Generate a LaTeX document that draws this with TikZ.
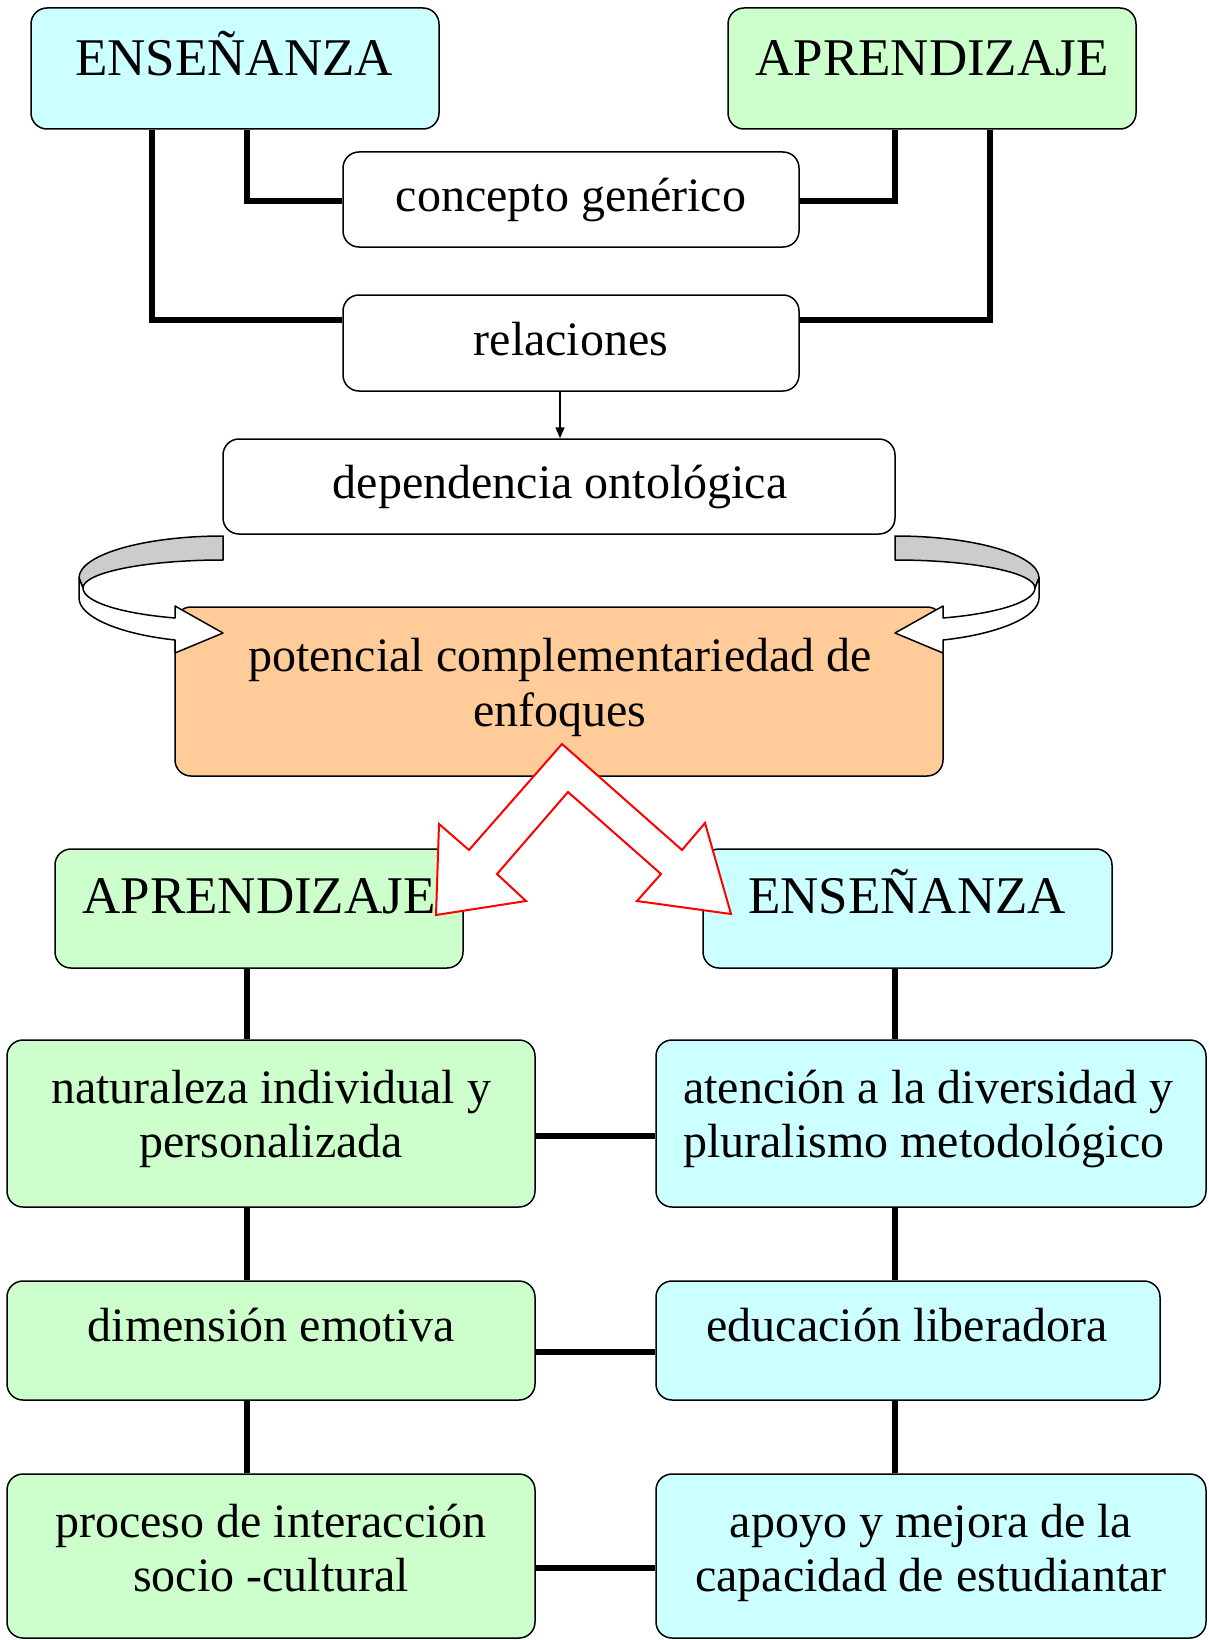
\documentclass[tikz,border=0pt]{standalone}
\usepackage{fontspec}
\setmainfont{Liberation Serif}
\usetikzlibrary{arrows.meta}
\definecolor{cyanbox}{HTML}{CCFFFF}
\definecolor{greenbox}{HTML}{CCFFCC}
\definecolor{orangebox}{HTML}{FFCC99}
\definecolor{bandgray}{HTML}{CCCCCC}
\begin{document}
\begin{tikzpicture}[x=1pt,y=-1pt,
  box/.style={draw, line width=1.5pt, rounded corners=16pt, inner sep=0pt},
  conn/.style={line width=6.3pt},
  title/.style={font=\fontsize{53}{60}\selectfont, anchor=base, inner sep=0pt},
  body/.style={font=\fontsize{48}{54.4}\selectfont, inner sep=0pt},
  bodyb/.style={body, anchor=base},
  ribbon/.style={draw, line width=1.5pt, line join=round}]
\useasboundingbox (0,0) rectangle (1208,1640);
\fill[white] (0,0) rectangle (1208,1640);

% boxes
\node[box, fill=cyanbox, minimum width=408pt, minimum height=121pt] (ensT) at (235,68.5) {};
\node[box, fill=greenbox, minimum width=408pt, minimum height=121pt] (aprT) at (932,68.5) {};
\node[box, fill=white, minimum width=456pt, minimum height=95pt] (conc) at (571,199.5) {};
\node[box, fill=white, minimum width=456pt, minimum height=96pt] (rel) at (571,343) {};
\node[box, fill=white, minimum width=672pt, minimum height=95pt] (dep) at (559,486.5) {};
\node[box, fill=orangebox, minimum width=768pt, minimum height=169pt] (pot) at (559,691.5) {};
\node[box, fill=greenbox, minimum width=408pt, minimum height=119pt] (aprB) at (259,908.5) {};
\node[box, fill=cyanbox, minimum width=409pt, minimum height=119pt] (ensB) at (907.5,908.5) {};
\node[box, fill=greenbox, minimum width=528pt, minimum height=167pt] (nat) at (271,1123.5) {};
\node[box, fill=cyanbox, minimum width=550pt, minimum height=167pt] (ate) at (931,1123.5) {};
\node[box, fill=greenbox, minimum width=528pt, minimum height=119pt] (dim) at (271,1340.5) {};
\node[box, fill=cyanbox, minimum width=504pt, minimum height=119pt] (edu) at (908,1340.5) {};
\node[box, fill=greenbox, minimum width=528pt, minimum height=164pt] (pro) at (271,1556) {};
\node[box, fill=cyanbox, minimum width=550pt, minimum height=164pt] (apo) at (931,1556) {};

% texts
\node[title] (ensTt) at (234,76) {ENSEÑANZA};
\node[title] (aprTt) at (932,76) {APRENDIZAJE};
\node[bodyb] (conct) at (571,211.5) {concepto genérico};
\node[bodyb] (relt) at (571,355.5) {relaciones};
\node[bodyb] (dept) at (560,498.5) {dependencia ontológica};
\node[body, align=center] (pott) at (560,688) {potencial complementariedad de\strut\\enfoques\strut};
\node[title] (aprBt) at (259,913.5) {APRENDIZAJE};
\node[title] (ensBt) at (907,913.5) {ENSEÑANZA};
\node[body, align=center] (natt) at (271,1119.5) {naturaleza individual y\strut\\personalizada\strut};
\node[body, align=left, anchor=west] (atet) at (683,1119.5) {atención a la diversidad y\strut\\pluralismo metodológico\strut};
\node[bodyb] (dimt) at (271,1341.5) {dimensión emotiva};
\node[bodyb] (edut) at (907,1341.5) {educación liberadora};
\node[body, align=center] (prot) at (271,1553.5) {proceso de interacción\strut\\socio -cultural\strut};
\node[body, align=center] (apot) at (931,1553.5) {apoyo y mejora de la\strut\\capacidad de estudiantar\strut};

% top connectors
\draw[conn] ([xshift=12pt]ensT.south) |- ([yshift=-1.5pt]conc.west);
\draw[conn] ([xshift=-83pt]ensT.south) |- ([yshift=23pt]rel.west);
\draw[conn] ([xshift=-37pt]aprT.south) |- ([yshift=-1.5pt]conc.east);
\draw[conn] ([xshift=58pt]aprT.south) |- ([yshift=23pt]rel.east);
\draw[line width=1.5pt, -{Triangle[length=11pt,width=9pt]}] ([xshift=-11pt]rel.south) -- ([xshift=1pt]dep.north);

% lower connectors
\draw[conn] ([xshift=-12pt]aprB.south) -- ([xshift=-12pt]aprB.south |- nat.north);
\draw[conn] ([xshift=-24pt]nat.south) -- ([xshift=-24pt]nat.south |- dim.north);
\draw[conn] ([xshift=-24pt]dim.south) -- ([xshift=-24pt]dim.south |- pro.north);
\draw[conn] ([xshift=-12.5pt]ensB.south) -- ([xshift=-12.5pt]ensB.south |- ate.north);
\draw[conn] ([xshift=-36pt]ate.south) -- ([xshift=-36pt]ate.south |- edu.north);
\draw[conn] ([xshift=-13pt]edu.south) -- ([xshift=-13pt]edu.south |- apo.north);
\draw[conn] ([yshift=-12.5pt]nat.east) -- ([yshift=-12.5pt]nat.east -| ate.west);
\draw[conn] ([yshift=-11.5pt]dim.east) -- ([yshift=-11.5pt]dim.east -| edu.west);
\draw[conn] ([yshift=-12pt]pro.east) -- ([yshift=-12pt]pro.east -| apo.west);

% curved ribbon arrows
\begin{scope}
\draw[ribbon, fill=bandgray] (223,536) .. controls (143.5,536) and (79,554.8) .. (79,578) -- (83,588) .. controls (83,572.5) and (145.7,560) .. (223,560) -- cycle;
\draw[ribbon, fill=white] (79,578) -- (79,598) .. controls (79,616.5) and (118,633.8) .. (175,640) -- (175,653) -- (223,633) -- (175,606) -- (175,618) .. controls (119.7,613.4) and (83,601.5) .. (83,588) -- cycle;
\end{scope}
\begin{scope}[xshift=1118pt, xscale=-1]
\draw[ribbon, fill=bandgray] (223,536) .. controls (143.5,536) and (79,554.8) .. (79,578) -- (83,588) .. controls (83,572.5) and (145.7,560) .. (223,560) -- cycle;
\draw[ribbon, fill=white] (79,578) -- (79,598) .. controls (79,616.5) and (118,633.8) .. (175,640) -- (175,653) -- (223,633) -- (175,606) -- (175,618) .. controls (119.7,613.4) and (83,601.5) .. (83,588) -- cycle;
\end{scope}

% red double arrow
\draw[red, line width=2pt, fill=white, line join=miter] (562,744) -- (469,850) -- (439,824) -- (436,915) -- (526,901) -- (497,874) -- (568,792) -- (661,874) -- (637,901) -- (731,914) -- (705,823) -- (682,850) -- cycle;
\end{tikzpicture}
\end{document}
